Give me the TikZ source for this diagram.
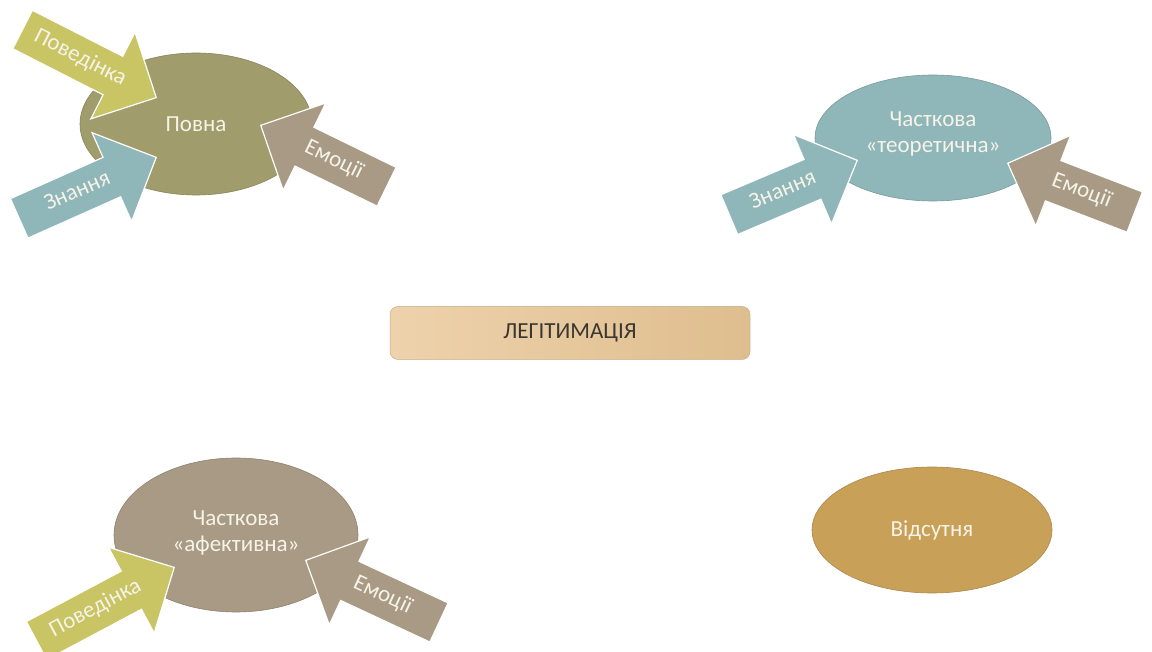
\documentclass[tikz,border=0pt]{standalone}
\usepackage{fontspec}
\setmainfont{Carlito}
\usetikzlibrary{shapes.geometric,shapes.arrows}

\definecolor{olivefill}{RGB}{160,156,108}
\definecolor{tealfill}{RGB}{143,182,184}
\definecolor{taupefill}{RGB}{168,154,132}
\definecolor{limefill}{RGB}{201,196,100}
\definecolor{ochrefill}{RGB}{201,160,88}
\definecolor{tanlight}{RGB}{238,210,172}
\definecolor{tandark}{RGB}{222,190,142}
\definecolor{labeltext}{RGB}{58,54,48}
\definecolor{paletext}{RGB}{246,243,232}

\begin{document}
\begin{tikzpicture}[x=1pt, y=-1pt,
    stage/.style={ellipse, draw=#1!85!black, fill=#1, line width=0.6pt,
      text=paletext, font=\fontsize{23}{26}\selectfont, align=center, inner sep=0pt},
    blockarrow/.style={single arrow, draw=white, line width=1.2pt, fill=#1,
      text=paletext, font=\fontsize{23}{26}\selectfont,
      text height=15pt, text depth=5pt,
      single arrow head extend=27pt, inner ysep=11pt, inner xsep=4pt, anchor=tip},
    emo/.style={shape border rotate=180}]
  \useasboundingbox[fill=white] (0,0) rectangle (1152,652);

  % stages
  \node[stage=olivefill, minimum width=232pt, minimum height=142pt] (povna) at (196,124) {Повна};
  \node[stage=tealfill, minimum width=236pt, minimum height=126pt] (teor) at (933,138) {Часткова\\«теоретична»\\[-15pt]};
  \node[stage=taupefill, minimum width=244pt, minimum height=154pt] (afekt) at (236,535) {Часткова\\«афективна»\\[-18pt]};
  \node[stage=ochrefill, minimum width=240pt, minimum height=126pt] (vids) at (932,530) {Відсутня};

  % centre label
  \node[rounded corners=8pt, draw=tandark!90!black, line width=0.5pt,
    left color=tanlight, right color=tandark, text=labeltext,
    font=\fontsize{23}{26}\selectfont,
    minimum width=360pt, minimum height=53pt] (legit) at (570,333) {ЛЕГІТИМАЦІЯ};

  % arrows into "Повна"
  \node[blockarrow=limefill, minimum height=150pt, rotate=-27] (povbeh) at (157,98) {Поведінка};
  \node[blockarrow=tealfill, minimum height=150pt, rotate=24] (povkn) at (157,157) {Знання};
  \node[blockarrow=taupefill, emo, minimum height=140pt, rotate=-26] (povem) at (260,125) {Емоції};

  % arrows into "теоретична"
  \node[blockarrow=tealfill, minimum height=139pt, rotate=23] (teorkn) at (858,160) {Знання};
  \node[blockarrow=taupefill, emo, minimum height=136pt, rotate=-21] (teorem) at (1007,163) {Емоції};

  % arrows into "афективна"
  \node[blockarrow=limefill, minimum height=156pt, rotate=28] (afbeh) at (175,567) {Поведінка};
  \node[blockarrow=taupefill, emo, minimum height=147pt, rotate=-25] (afem) at (305,560) {Емоції};
\end{tikzpicture}
\end{document}
